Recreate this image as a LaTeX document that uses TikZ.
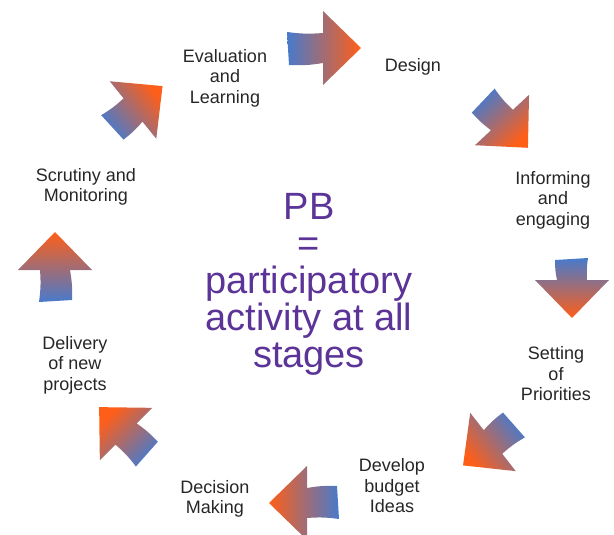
\documentclass[tikz,border=0pt]{standalone}
\usepackage{fontspec}
\setmainfont{Liberation Sans}
\usepackage{tikz}

\definecolor{pbblue}{RGB}{72,122,204}
\definecolor{pborange}{RGB}{255,94,24}
\definecolor{pbpurple}{RGB}{92,52,152}

\begin{document}
\begin{tikzpicture}[x=1pt,y=1pt]

	\tikzset{stage/.style={align=center,font=\fontsize{18}{20.5}\selectfont,text=black!85}}
	\tikzset{pics/pbarrow/.style 2 args={code={
		\shade[left color=pbblue,right color=pborange,shading angle=#2]
		(0,15) -- (0,37) -- (38,0) -- (0,-37) -- (0,-15)
		to[bend left=6] (-#1,-17) -- (-#1-2,16) to[bend right=6] cycle;}}}

	\useasboundingbox (0,0) rectangle (614,-535);

	% the cycle of arrows
	\pic[rotate=0] at (323,-48) {pbarrow={34}{90}};
	\pic[rotate=-47] at (502,-120) {pbarrow={26}{43}};
	\pic[rotate=-90] at (572,-280) {pbarrow={20}{0}};
	\pic[rotate=-142] at (493,-442) {pbarrow={26}{-52}};
	\pic[rotate=180] at (307,-503) {pbarrow={30}{270}};
	\pic[rotate=135] at (126,-434) {pbarrow={28}{225}};
	\pic[rotate=90] at (55,-270) {pbarrow={30}{180}};
	\pic[rotate=39] at (133,-110) {pbarrow={26}{129}};

	% stages
	\node[stage] (evaluation) at (225,-78) {Evaluation\\and\\Learning};
	\node[stage] (design) at (413,-67) {Design};
	\node[stage] (informing) at (553,-200) {Informing\\and\\engaging};
	\node[stage] (setting) at (556,-374) {Setting\\of\\Priorities};
	\node[stage] (develop) at (392,-486) {Develop\\budget\\Ideas};
	\node[stage] (decision) at (215,-499) {Decision\\Making};
	\node[stage] (delivery) at (75,-365) {Delivery\\of new\\projects};
	\node[stage] (scrutiny) at (86,-187) {Scrutiny and\\Monitoring};

	\node[align=center,text=pbpurple,font=\fontsize{38}{37}\selectfont] (centre) at (309,-284)
		{PB\\=\\participatory\\activity at all\\stages};

\end{tikzpicture}
\end{document}
